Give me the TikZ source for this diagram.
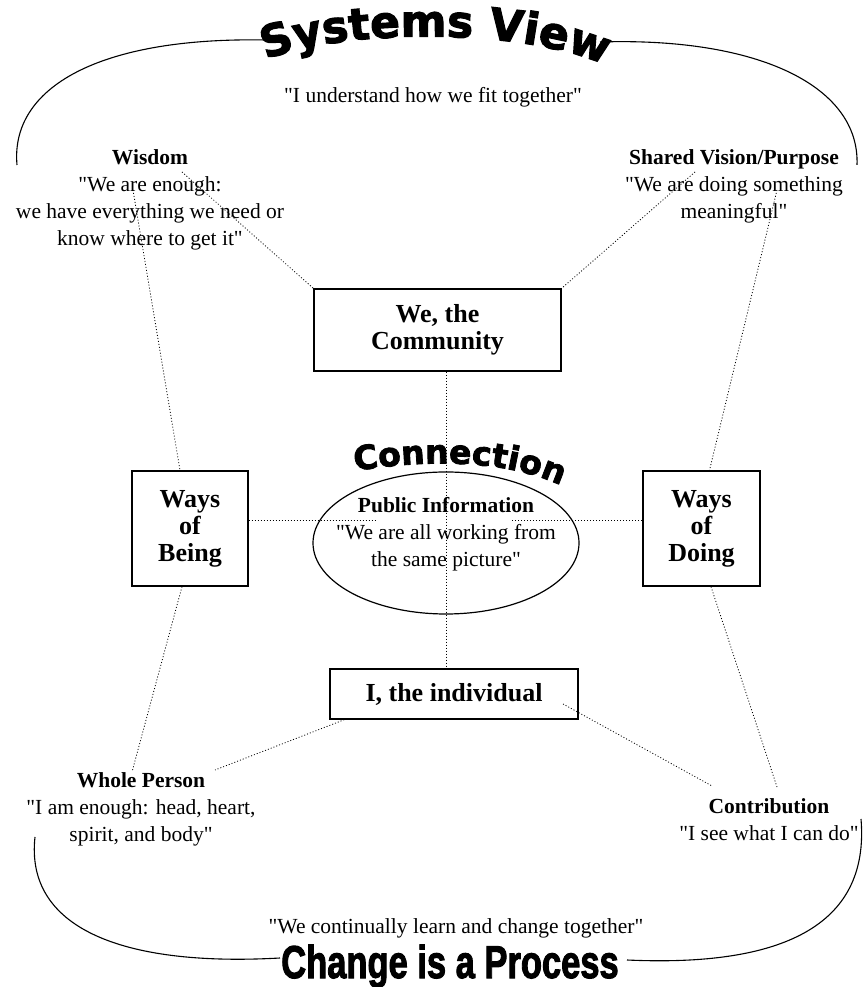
\documentclass[tikz,border=0pt]{standalone}
\usepackage{fontspec}
\usepackage{graphicx}
\setmainfont{Liberation Serif}[Ligatures=TeXOff]
\newfontfamily\archfont{DejaVu Sans}[BoldFeatures={FakeBold=2.5}]
\newfontfamily\bannerfont{Liberation Sans}[BoldFeatures={FakeBold=2.5}]
\usetikzlibrary{shapes.geometric,decorations.text}

\begin{document}
\begin{tikzpicture}[x=1pt,y=1pt,
    box/.style={draw, line width=1.4pt, align=center, inner sep=0pt,
      font=\fontsize{26}{27}\selectfont\bfseries},
    quote/.style={align=center, inner sep=1pt, font=\fontsize{21.5}{27}\selectfont},
    link/.style={line width=0.8pt, dash pattern=on 1pt off 2pt},
    frame/.style={line width=1.1pt}]

  \useasboundingbox (0,0) rectangle (865,987);

  % Titulos em arco
  \path[decorate, decoration={text along path, text align=center,
      text={|\archfont\bfseries\fontsize{44}{44}\selectfont|Systems View}}]
    (265,927) .. controls (340,958) and (520,960) .. (605,922);
  \path[decorate, decoration={text along path, text align=center,
      text={|\archfont\bfseries\fontsize{33}{33}\selectfont|Connection}}]
    (343,514) .. controls (420,528) and (510,530) .. (572,496);
  \node[inner sep=0pt, anchor=base] (chg) at (450,9)
    {\bannerfont\bfseries\fontsize{46}{46}\selectfont\scalebox{0.75}[1]{Change is a Process}};

  % Linhas de contorno
  \draw[frame] (17,822) .. controls (10,900) and (100,950) .. (265,947);
  \draw[frame] (600,945) .. controls (760,950) and (860,900) .. (857,822);
  \draw[frame] (35,150) .. controls (25,60) and (120,20) .. (280,29);
  \draw[frame] (627,27) .. controls (780,20) and (870,60) .. (861,168);

  % Caixas
  \node[box, minimum width=247pt, minimum height=82pt] (comm) at (437.5,657) {We, the\\Community};
  \node[box, minimum width=116pt, minimum height=115pt] (being) at (190,458.5) {Ways\\of\\Being};
  \node[box, minimum width=117pt, minimum height=115pt] (doing) at (701.5,458.5) {Ways\\of\\Doing};
  \node[box, minimum width=248pt, minimum height=50pt] (ibox) at (454,293) {I, the individual};
  \node[ellipse, draw, line width=1.2pt, minimum width=266pt, minimum height=142pt, inner sep=0pt] (ell) at (446,444) {};

  % Textos
  \node[quote] (sysq) at (433,890) {"I understand how we fit together"};
  \node[quote] (wisdom) at (150,787) {\textbf{Wisdom}\\"We are enough:\\we have everything we need or\\know where to get it"};
  \node[quote] (vision) at (734,800.5) {\textbf{Shared Vision/Purpose}\\"We are doing something\\meaningful"};
  \node[quote] (pubinfo) at (446,453) {\textbf{Public Information}\\"We are all working from\\the same picture"};
  \node[quote] (whole) at (141,178) {\textbf{Whole Person}\\"I am enough: head, heart,\\spirit, and body"};
  \node[quote] (contrib) at (769,167.5) {\textbf{Contribution}\\"I see what I can do"};
  \node[quote] (chgq) at (456,59) {"We continually learn and change together"};

  % Pontas soltas
  \coordinate (wis1) at (182,815);
  \coordinate (wis2) at (133,797);
  \coordinate (vis1) at (695,815);
  \coordinate (vis2) at (777,797);
  \coordinate (hl) at (377,467);
  \coordinate (hr) at (512,467);
  \coordinate (ist) at (563,283);
  \coordinate (wp1) at (132,215);
  \coordinate (wp2) at (215,217);
  \coordinate (ct1) at (712,201);
  \coordinate (ct2) at (777,200);

  % Ligacoes pontilhadas
  \draw[link] (wis1) -- (comm.north west);
  \draw[link] (wis2) -- ([xshift=-10pt]being.north);
  \draw[link] (vis1) -- (comm.north east);
  \draw[link] (vis2) -- ([xshift=8pt]doing.north);
  \draw[link] (ell |- comm.south) -- (ell |- ibox.north);
  \draw[link] (hl -| being.east) -- (hl);
  \draw[link] (hr) -- (hr -| doing.west);
  \draw[link] ([xshift=15pt]ibox.south west) -- (wp2);
  \draw[link] (ist) -- (ct1);
  \draw[link] ([xshift=-8pt]being.south) -- (wp1);
  \draw[link] ([xshift=9.5pt]doing.south) -- (ct2);
\end{tikzpicture}
\end{document}
